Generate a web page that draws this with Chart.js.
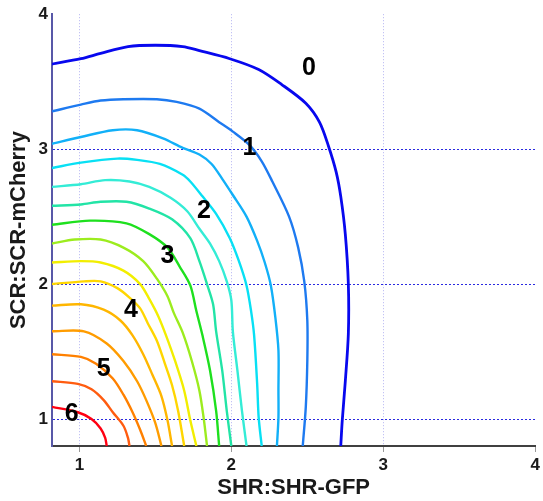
<!DOCTYPE html>
<html>
<head>
<meta charset="utf-8">
<script src="https://cdn.jsdelivr.net/npm/chart.js@4.4.1/dist/chart.umd.min.js"></script>
<style>
  html, body { margin: 0; padding: 0; background: #fff; }
  #wrap { width: 543px; height: 501px; }
</style>
</head>
<body>
<div id="wrap"><canvas id="contour" width="543" height="501"></canvas></div>
<script>
// contour lines, outermost (level 0) to innermost, as [x, y] pairs
const c0 = [[0.82,3.63],[1.01,3.67],[1.14,3.71],[1.32,3.76],[1.50,3.77],[1.68,3.76],[1.79,3.73],[1.99,3.67],[2.18,3.59],[2.33,3.48],[2.49,3.34],[2.58,3.20],[2.64,3.02],[2.69,2.83],[2.72,2.65],[2.75,2.37],[2.77,2.00],[2.77,1.63],[2.75,1.28],[2.73,0.99],[2.72,0.80]];
const c1 = [[0.82,3.28],[1.01,3.33],[1.14,3.36],[1.29,3.37],[1.51,3.37],[1.64,3.35],[1.79,3.30],[1.92,3.20],[2.01,3.13],[2.12,3.03],[2.20,2.91],[2.27,2.76],[2.38,2.50],[2.44,2.27],[2.48,2.02],[2.50,1.73],[2.50,1.43],[2.49,1.09],[2.47,0.80]];
const c2 = [[0.82,3.04],[1.01,3.09],[1.22,3.14],[1.38,3.14],[1.55,3.08],[1.68,3.01],[1.79,2.96],[1.87,2.89],[1.94,2.78],[2.01,2.66],[2.10,2.50],[2.17,2.32],[2.22,2.16],[2.26,1.99],[2.29,1.75],[2.31,1.51],[2.31,1.21],[2.31,1.01],[2.30,0.80]];
const c3 = [[0.82,2.86],[1.01,2.90],[1.25,2.93],[1.38,2.92],[1.53,2.89],[1.68,2.81],[1.73,2.76],[1.81,2.65],[1.90,2.52],[1.99,2.34],[2.05,2.17],[2.10,1.99],[2.13,1.80],[2.15,1.62],[2.17,1.26],[2.18,1.01],[2.20,0.80]];
const c4 = [[0.82,2.72],[1.01,2.74],[1.17,2.77],[1.33,2.76],[1.46,2.72],[1.60,2.64],[1.71,2.54],[1.79,2.41],[1.86,2.30],[1.92,2.17],[1.97,2.02],[2.00,1.88],[2.01,1.65],[2.04,1.36],[2.07,1.06],[2.10,0.80]];
const c5 = [[0.82,2.58],[1.01,2.59],[1.14,2.61],[1.31,2.61],[1.46,2.56],[1.61,2.48],[1.73,2.34],[1.79,2.17],[1.84,2.00],[1.88,1.85],[1.90,1.65],[1.94,1.36],[1.97,1.06],[2.00,0.80]];
const c6 = [[0.82,2.44],[1.07,2.47],[1.31,2.45],[1.46,2.37],[1.58,2.27],[1.66,2.13],[1.73,1.99],[1.77,1.80],[1.81,1.62],[1.86,1.36],[1.90,1.06],[1.92,0.80]];
const c7 = [[0.82,2.30],[0.97,2.33],[1.14,2.33],[1.29,2.27],[1.42,2.17],[1.51,2.04],[1.58,1.91],[1.62,1.79],[1.68,1.64],[1.74,1.43],[1.79,1.21],[1.82,0.99],[1.84,0.80]];
const c8 = [[0.82,2.16],[1.01,2.17],[1.14,2.16],[1.29,2.10],[1.40,2.00],[1.46,1.89],[1.52,1.76],[1.57,1.62],[1.63,1.43],[1.69,1.21],[1.73,0.99],[1.77,0.80]];
const c9 = [[0.82,2.00],[1.03,2.02],[1.14,2.02],[1.25,1.97],[1.33,1.90],[1.40,1.82],[1.45,1.71],[1.51,1.58],[1.56,1.42],[1.61,1.25],[1.65,1.06],[1.69,0.80]];
const c10 = [[0.82,1.84],[1.01,1.85],[1.16,1.81],[1.27,1.73],[1.35,1.62],[1.42,1.48],[1.48,1.33],[1.54,1.17],[1.58,0.99],[1.61,0.80]];
const c11 = [[0.82,1.65],[1.03,1.65],[1.18,1.56],[1.29,1.43],[1.38,1.28],[1.44,1.14],[1.50,0.97],[1.54,0.80]];
const c12 = [[0.82,1.48],[1.01,1.46],[1.11,1.41],[1.22,1.30],[1.29,1.18],[1.35,1.05],[1.40,0.92],[1.44,0.80]];
const c13 = [[0.82,1.28],[0.99,1.26],[1.08,1.22],[1.16,1.14],[1.22,1.05],[1.29,0.95],[1.32,0.86],[1.33,0.80]];
const c14 = [[0.82,1.09],[0.99,1.05],[1.08,1.00],[1.14,0.93],[1.17,0.86],[1.18,0.80]];

const contourLines = [c0, c1, c2, c3, c4, c5, c6, c7, c8, c9, c10, c11, c12, c13, c14];
const lineColors = ['#0808ee', '#1e7af0', '#12b0f8', '#08e0f4', '#34ecd6', '#22e4a6', '#1ee01e', '#9cec1e',
                    '#f2ee00', '#ffd600', '#ffb600', '#ff9c00', '#ff8000', '#ff5c10', '#ff0012'];

// level labels placed on the plot
const labelText = ['0', '1', '2', '3', '4', '5', '6'];
const labelX = [2.51, 2.12, 1.82, 1.58, 1.34, 1.16, 0.95];
const labelY = [3.60, 3.01, 2.54, 2.21, 1.81, 1.37, 1.04];

const xTicks = [1, 2, 3, 4];
const yTicks = [1, 2, 3, 4];

const levelLabels = {
  id: 'levelLabels',
  afterDatasetsDraw(chart) {
    const { ctx, scales: { x, y } } = chart;
    ctx.save();
    ctx.font = 'bold 25px Arial, "Liberation Sans", sans-serif';
    ctx.fillStyle = '#000';
    ctx.textAlign = 'center';
    ctx.textBaseline = 'middle';
    labelText.forEach((t, i) => {
      ctx.fillText(t, x.getPixelForValue(labelX[i]), y.getPixelForValue(labelY[i]));
    });
    ctx.restore();
  }
};

const fontFamily = 'Arial, "Liberation Sans", sans-serif';
const clear = 'rgba(0,0,0,0)';

new Chart(document.getElementById('contour').getContext('2d'), {
  type: 'scatter',
  data: {
    datasets: contourLines.map((pts, i) => ({
      data: pts.map(p => ({ x: p[0], y: p[1] })),
      showLine: true,
      borderColor: lineColors[i],
      borderWidth: i === 0 ? 2.8 : 2.4,
      borderJoinStyle: 'round',
      pointRadius: 0,
      fill: false,
      tension: 0.3,
    })),
  },
  options: {
    responsive: false,
    animation: false,
    layout: { padding: { top: 12, right: 5, left: 0, bottom: 0 } },
    plugins: {
      legend: { display: false },
      tooltip: { enabled: false },
    },
    scales: {
      x: {
        type: 'linear',
        min: 0.82,
        max: 4,
        afterBuildTicks: s => { s.ticks = xTicks.map(v => ({ value: v })); },
        afterFit: s => { s.height = 55; },
        grid: {
          color: c => (c.tick && c.tick.value === 4 ? clear : '#b4b4f2'),
          lineWidth: 1,
          drawTicks: true,
          tickLength: 6,
          tickColor: '#999',
        },
        border: { display: true, color: '#404040', width: 2, dash: [1, 2] },
        ticks: {
          color: '#1a1a1a',
          padding: 3,
          maxRotation: 0,
          font: { size: 17, weight: 'bold', family: fontFamily },
        },
        title: {
          display: true,
          text: 'SHR:SHR-GFP',
          color: '#1a1a1a',
          padding: { top: 0, bottom: 0 },
          font: { size: 22, weight: 'bold', family: fontFamily },
        },
      },
      y: {
        type: 'linear',
        min: 0.8,
        max: 4,
        afterBuildTicks: s => { s.ticks = yTicks.map(v => ({ value: v })); },
        afterFit: s => { s.width = 52; },
        grid: {
          color: c => (c.tick && c.tick.value === 4 ? clear : '#2a2ae0'),
          lineWidth: 1,
          drawTicks: false,
        },
        border: { display: true, color: '#5858a8', width: 2, dash: [2, 2] },
        ticks: {
          color: '#1a1a1a',
          padding: 4,
          font: { size: 17, weight: 'bold', family: fontFamily },
        },
        title: {
          display: true,
          text: 'SCR:SCR-mCherry',
          color: '#1a1a1a',
          padding: { top: 6, bottom: 0 },
          font: { size: 22, weight: 'bold', family: fontFamily },
        },
      },
    },
  },
  plugins: [levelLabels],
});
</script>
</body>
</html>
